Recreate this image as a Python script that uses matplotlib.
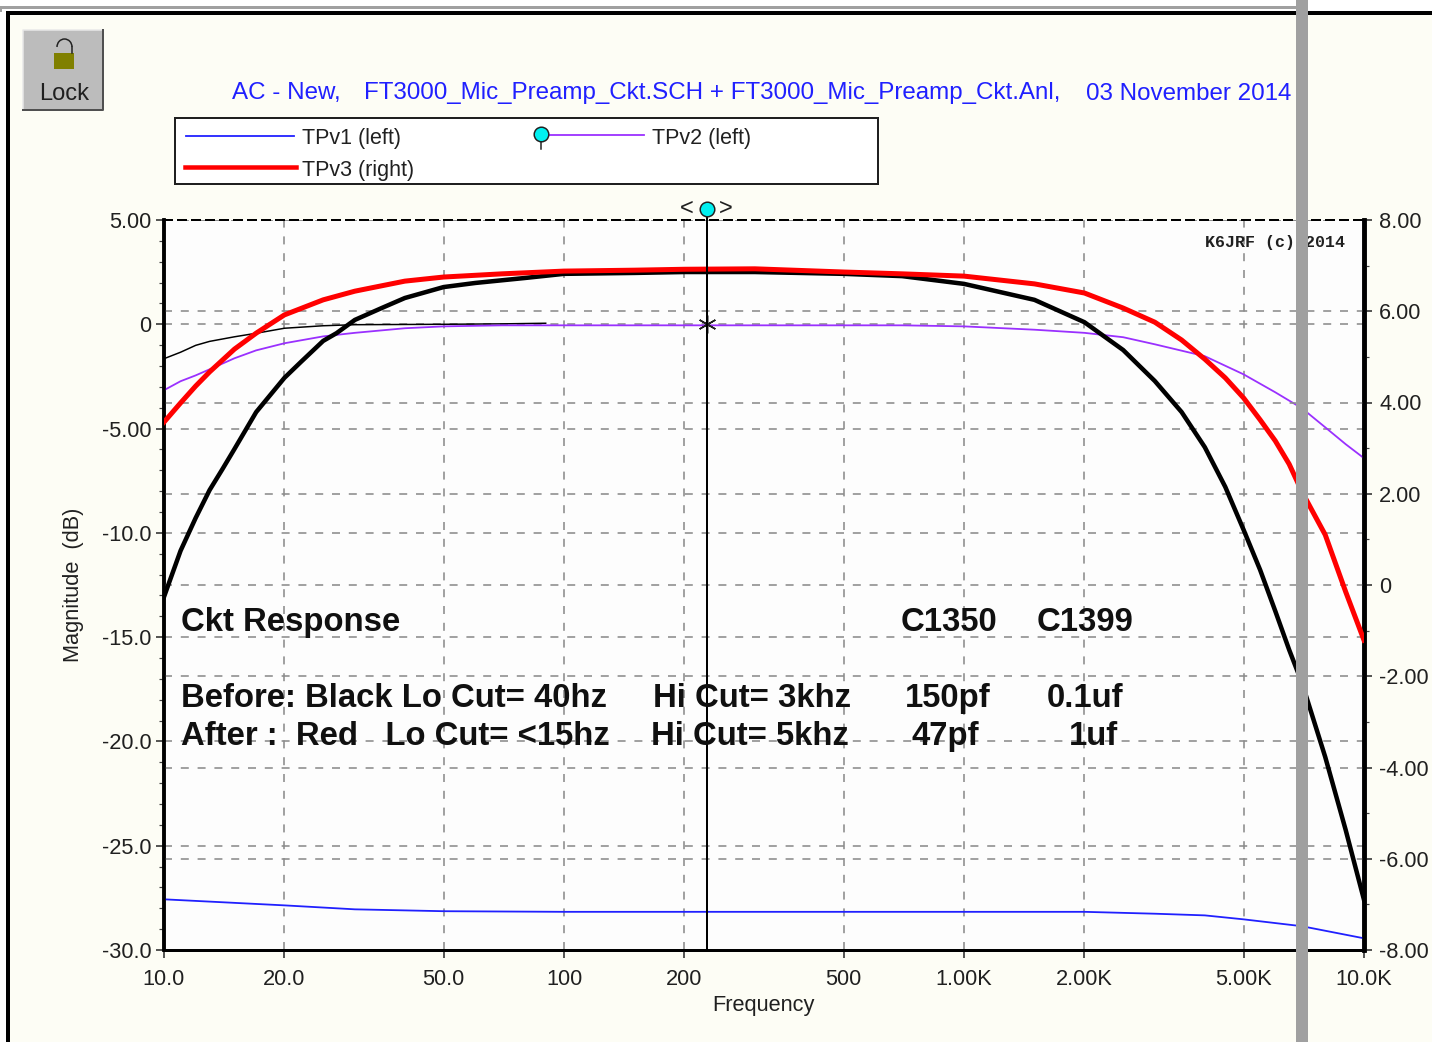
import numpy as np
import matplotlib
matplotlib.use('Agg')
import matplotlib.pyplot as plt
from matplotlib.patches import Rectangle, Arc
from matplotlib.ticker import FixedLocator, FixedFormatter, NullLocator, NullFormatter

plt.rcParams['font.family'] = ['Liberation Sans', 'DejaVu Sans']

W, H = 1432, 1042
BG = '#fdfdf5'
GRID = '#8c8c8c'

# curves, frequency in Hz
freq_red = [10, 11, 12, 13, 15, 17, 20, 25, 30, 40, 50, 70, 100, 150, 200, 300, 500, 700, 1000,
            1500, 2000, 2500, 3000, 3500, 4000, 4500, 5000, 5500, 6000, 6500, 7000, 8000, 9000, 10000]
tpv3 = [3.57, 3.99, 4.36, 4.67, 5.17, 5.52, 5.92, 6.25, 6.44, 6.66, 6.75, 6.82, 6.88, 6.90, 6.92, 6.93,
        6.86, 6.82, 6.77, 6.60, 6.40, 6.07, 5.76, 5.37, 4.95, 4.54, 4.10, 3.62, 3.16, 2.65, 2.04, 1.10, -0.15, -1.21]

freq_black = [10, 11, 12, 13, 14, 15, 17, 20, 22, 25, 27, 30, 35, 40, 50, 60, 80, 100, 150, 200, 300, 500,
              700, 1000, 1500, 2000, 2500, 3000, 3500, 4000, 4500, 5000, 5500, 6000, 6500, 7000, 8000, 9000, 10000]
before_right = [-0.26, 0.75, 1.47, 2.08, 2.54, 2.98, 3.79, 4.54, 4.89, 5.35, 5.52, 5.81, 6.07, 6.29, 6.53, 6.62,
                6.73, 6.82, 6.84, 6.86, 6.86, 6.82, 6.77, 6.60, 6.25, 5.76, 5.15, 4.47, 3.79, 3.02, 2.15, 1.21,
                0.33, -0.57, -1.42, -2.15, -3.77, -5.37, -6.90]

freq_purple = [10, 11, 12, 13, 15, 17, 20, 25, 30, 40, 50, 70, 100, 700, 1000, 1500, 2000, 2500, 3000,
               4000, 5000, 6000, 7000, 8000, 9000, 10000]
tpv2 = [-3.16, -2.73, -2.45, -2.16, -1.63, -1.25, -0.91, -0.58, -0.41, -0.19, -0.10, -0.05, -0.05, -0.05,
        -0.10, -0.26, -0.41, -0.62, -0.96, -1.53, -2.40, -3.26, -4.03, -4.94, -5.75, -6.42]

freq_thin = [10, 11, 12, 13, 15, 17, 20, 25, 30, 50, 70, 90]
before_left = [-1.65, -1.34, -1.01, -0.82, -0.60, -0.43, -0.19, -0.07, -0.02, 0, 0.02, 0.05]

freq_blue = [10, 20, 30, 50, 100, 2000, 3000, 4000, 5000, 7000, 10000]
tpv1 = [-27.57, -27.86, -28.05, -28.14, -28.17, -28.17, -28.26, -28.34, -28.53, -28.86, -29.44]

cursor_freq = 228

xticks = [10, 20, 50, 100, 200, 500, 1000, 2000, 5000, 10000]
xlabels = ['10.0', '20.0', '50.0', '100', '200', '500', '1.00K', '2.00K', '5.00K', '10.0K']
left_ticks = [-30, -25, -20, -15, -10, -5, 0, 5]
left_labels = ['-30.0', '-25.0', '-20.0', '-15.0', '-10.0', '-5.00', '0', '5.00']
right_ticks = [-8, -6, -4, -2, 0, 2, 4, 6, 8]
right_labels = ['-8.00', '-6.00', '-4.00', '-2.00', '0', '2.00', '4.00', '6.00', '8.00']

fig = plt.figure(figsize=(W / 100, H / 100), dpi=100, facecolor=BG)


def lw(px):
    return px * 0.72


ax = fig.add_axes([164 / W, 1 - 950 / H, 1200 / W, 730 / H], zorder=2)
ax.set_facecolor('#fdfdfd')
ax.set_xscale('log')
ax.set_xlim(10, 10000)
ax.set_ylim(-30, 5)
ax2 = ax.twinx()
ax2.set_ylim(-8, 8)
ax2.patch.set_visible(False)

ax.xaxis.set_major_locator(FixedLocator(xticks))
ax.xaxis.set_major_formatter(FixedFormatter(xlabels))
ax.xaxis.set_minor_locator(NullLocator())
ax.xaxis.set_minor_formatter(NullFormatter())
ax.set_yticks(left_ticks, left_labels)
ax.set_yticks(np.arange(-30, 6, 1), minor=True)
ax2.set_yticks(right_ticks, right_labels)
ax2.set_yticks(np.arange(-8, 9, 1), minor=True)

for a in (ax, ax2):
    a.grid(True, which='major', color=GRID, lw=lw(1.6), linestyle=(0, (5, 5.5)))
    a.set_axisbelow(True)
    a.tick_params(which='major', length=6, width=lw(1.5), labelsize=15.7, pad=3, colors='#202020')
    a.tick_params(which='minor', length=3.5, width=lw(1.2), colors='#404040')
ax2.xaxis.set_visible(False)
ax2.tick_params(axis='y', pad=5)
ax.tick_params(axis='x', pad=8)

for a in (ax, ax2):
    a.spines['left'].set_linewidth(lw(3.5))
    a.spines['right'].set_linewidth(lw(4.5))
    a.spines['bottom'].set_linewidth(lw(3))
    a.spines['top'].set_linewidth(lw(2))
    a.spines['top'].set_linestyle((0, (4, 3)))

ax.plot(freq_blue, tpv1, color='#2020ff', lw=lw(1.8), zorder=3)
ax.plot(freq_thin, before_left, color='black', lw=lw(1.5), zorder=3)
ax.plot(freq_purple, tpv2, color='#9a30ff', lw=lw(1.8), zorder=3)
ax2.plot(freq_black, before_right, color='black', lw=lw(4.5), zorder=3)
ax2.plot(freq_red, tpv3, color='#ff0000', lw=lw(5), zorder=4)

# cursor
trans = ax.get_xaxis_transform()
ax2.plot([cursor_freq, cursor_freq], [0, 1.015], transform=trans, color='black', lw=lw(2), zorder=5, clip_on=False)
ax.plot([cursor_freq], [0], marker=(6, 2, 0), ms=13, mew=lw(1.5), color='#202020', zorder=6)
ax2.plot([cursor_freq], [1.015], transform=trans, marker='o', ms=10.5, mfc='#00f0f0', mec='#202020',
         mew=lw(1.5), zorder=7, clip_on=False)

ax.set_xlabel('Frequency', fontsize=15.7, color='#202020', labelpad=7)
ax.xaxis.set_label_coords((763 - 164) / 1200, -(1006 - 950) / 730, transform=ax.transAxes)
ax.xaxis.label.set_verticalalignment('center')
ax.set_ylabel('Magnitude  (dB)', fontsize=15.7, color='#202020')
ax.yaxis.set_label_coords((73 - 164) / 1200, (950 - 585) / 730, transform=ax.transAxes)
ax.yaxis.label.set_verticalalignment('center')

# everything else is placed in image pixels on a top layer
top = fig.add_axes([0, 0, 1, 1], zorder=5)
top.set_xlim(0, W)
top.set_ylim(H, 0)
top.axis('off')
top.patch.set_visible(False)

# window frame
top.add_patch(Rectangle((0, 0), W, 12, fc='white', ec='none'))
top.add_patch(Rectangle((0, 0), 6, H, fc='white', ec='none'))
top.add_patch(Rectangle((0, 6), 1296, 2.5, fc='#a0a0a0', ec='none'))
top.add_patch(Rectangle((0, 6), 2, 6, fc='#a0a0a0', ec='none'))
top.add_patch(Rectangle((6, 11), W - 6, 4, fc='black', ec='none'))
top.add_patch(Rectangle((6, 11), 4, H - 11, fc='black', ec='none'))
top.add_patch(Rectangle((1296, 0), 12, H, fc='#a0a0a0', ec='none', zorder=10))

# lock button
top.add_patch(Rectangle((23, 30), 80, 80, fc='#bcbcbc', ec='none'))
top.plot([23, 23, 103], [110, 30, 30], color='#e8e8e8', lw=lw(1.5))
top.plot([23, 103, 103], [110, 110, 30], color='#505050', lw=lw(2))
top.add_patch(Rectangle((54, 53), 20, 16, fc='#808000', ec='none'))
top.add_patch(Arc((64.5, 47), 15, 16, theta1=180, theta2=360, ec='#202020', lw=lw(1.5)))
top.plot([72, 72], [47, 53], color='#202020', lw=lw(1.5))
top.text(64, 91, 'Lock', ha='center', va='center_baseline', fontsize=17, color='#202020')

# title
title_kw = dict(ha='left', va='center_baseline', fontsize=17.4, color='#2020ff')
top.text(232, 91, 'AC - New,', **title_kw)
top.text(364, 91, 'FT3000_Mic_Preamp_Ckt.SCH + FT3000_Mic_Preamp_Ckt.Anl,', **title_kw)
top.text(1086, 91, '03 November 2014', **title_kw)

# legend box
top.add_patch(Rectangle((175, 118), 703, 66, fc='white', ec='#202020', lw=lw(2)))
top.plot([186, 294], [136, 136], color='#2020ff', lw=lw(1.8))
top.plot([185, 296], [167, 167], color='#ff0000', lw=lw(4.5))
top.plot([541, 644], [135, 135], color='#9a30ff', lw=lw(1.8))
top.plot([541, 541], [135, 149], color='#202020', lw=lw(1.5))
top.plot([541], [134], marker='o', ms=10.5, mfc='#00f0f0', mec='#202020', mew=lw(1.5))
legend_kw = dict(ha='left', va='center_baseline', fontsize=15.5, color='#202020')
top.text(302, 136, 'TPv1 (left)', **legend_kw)
top.text(302, 168, 'TPv3 (right)', **legend_kw)
top.text(652, 136, 'TPv2 (left)', **legend_kw)

# cursor arrows
top.text(687, 209, '<', ha='center', va='center', fontsize=17, color='#202020')
top.text(726, 209, '>', ha='center', va='center', fontsize=17, color='#202020')

# copyright
top.text(1205, 242, 'K6JRF (c) 2014', ha='left', va='center', fontsize=12, family='Liberation Mono',
         weight='bold', color='#202020')

# notes
notes = [
    (181, 619, 'Ckt Response'), (901, 619, 'C1350'), (1037, 619, 'C1399'),
    (181, 695, 'Before: Black Lo Cut= 40hz'), (653, 695, 'Hi Cut= 3khz'), (905, 695, '150pf'), (1047, 695, '0.1uf'),
    (181, 733, 'After :  Red   Lo Cut= <15hz'), (651, 733, 'Hi Cut= 5khz'), (912, 733, '47pf'), (1069, 733, '1uf'),
]
for x, y, s in notes:
    top.text(x, y, s, ha='left', va='center_baseline', fontsize=23.7, weight='bold', color='#101010')

fig.savefig('out.png', dpi=100, facecolor=BG)
